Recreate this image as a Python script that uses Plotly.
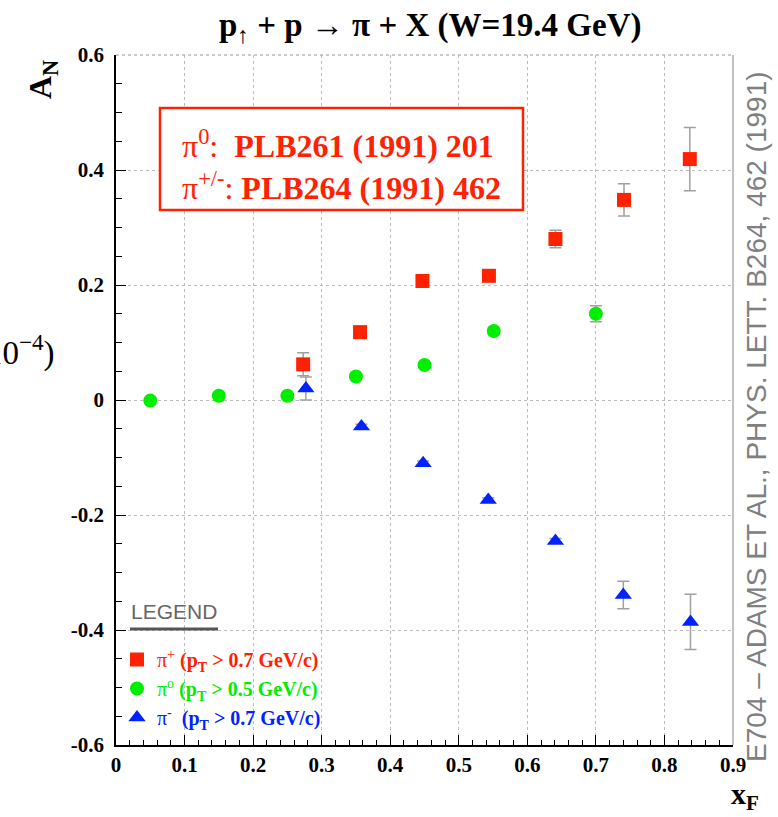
import plotly.graph_objects as go

# ---- data ----
pip_x = [0.273, 0.356, 0.447, 0.544, 0.641, 0.741, 0.837]
pip_y = [0.062, 0.118, 0.207, 0.216, 0.280, 0.348, 0.419]
pip_err = [0.020, 0.004, 0.004, 0.004, 0.015, 0.028, 0.055]

pi0_x = [0.05, 0.15, 0.25, 0.35, 0.45, 0.551, 0.70]
pi0_y = [-0.001, 0.0075, 0.0075, 0.041, 0.061, 0.120, 0.150]
pi0_err = [0.004, 0.004, 0.004, 0.004, 0.004, 0.006, 0.014]

pim_x = [0.277, 0.358, 0.448, 0.543, 0.641, 0.740, 0.838]
pim_y = [0.020, -0.046, -0.110, -0.174, -0.245, -0.339, -0.386]
pim_err = [0.020, 0.004, 0.004, 0.004, 0.004, 0.024, 0.048]

x_tick_vals = [0, 0.1, 0.2, 0.3, 0.4, 0.5, 0.6, 0.7, 0.8, 0.9]
x_tick_text = ["0", "0.1", "0.2", "0.3", "0.4", "0.5", "0.6", "0.7", "0.8", "0.9"]
y_tick_vals = [-0.6, -0.4, -0.2, 0, 0.2, 0.4, 0.6]
y_tick_text = ["-0.6", "-0.4", "-0.2", "0", "0.2", "0.4", "0.6"]

RED = "#ff2200"
GREEN = "#00ee00"
BLUE = "#0022ff"
SERIF = "Liberation Serif, Times New Roman, serif"
SANS = "Liberation Sans, Arial, sans-serif"

W, H = 778, 817
L, R, T, B = 116, 45, 55, 72
PW, PH = W - L - R, H - T - B


def px(x):
    return (x - L) / PW


def py(y):
    return (H - B - y) / PH


err_style = dict(type="data", color="#a0a0a0", thickness=1.5, width=6)

fig = go.Figure()
fig.add_trace(go.Scatter(
    x=pip_x, y=pip_y, mode="markers",
    error_y=dict(array=pip_err, **err_style),
    marker=dict(symbol="square", size=14, color=RED),
    name="<span style='color:%s'>π<sup>+</sup> <b>(p<sub>T</sub> > 0.7 GeV/c)</b></span>" % RED,
))
fig.add_trace(go.Scatter(
    x=pi0_x, y=pi0_y, mode="markers",
    error_y=dict(array=pi0_err, **err_style),
    marker=dict(symbol="circle", size=14, color=GREEN),
    name="<span style='color:%s'>π<sup>o</sup> <b>(p<sub>T</sub> > 0.5 GeV/c)</b></span>" % GREEN,
))
fig.add_trace(go.Scatter(
    x=pim_x, y=pim_y, mode="markers",
    error_y=dict(array=pim_err, **err_style),
    marker=dict(symbol="triangle-up", size=15, color=BLUE),
    name="<span style='color:%s'>π<sup>-</sup>  <b>(p<sub>T</sub> > 0.7 GeV/c)</b></span>" % BLUE,
))

axis_common = dict(
    showline=True, linecolor="black", linewidth=1.5,
    showgrid=True, gridcolor="#bbbbbb", griddash="dot", gridwidth=1,
    ticks="inside", ticklen=10, tickcolor="black", tickwidth=1,
    zeroline=False,
    tickfont=dict(family=SERIF, size=21, color="black", weight="bold"),
)

fig.update_xaxes(range=[0, 0.9], tickvals=x_tick_vals, ticktext=x_tick_text,
                 minor=dict(dtick=0.02, ticks="inside", ticklen=5, tickcolor="black", showgrid=False),
                 **axis_common)
fig.update_yaxes(range=[-0.6, 0.6], tickvals=y_tick_vals, ticktext=y_tick_text,
                 minor=dict(dtick=0.05, ticks="inside", ticklen=6, tickcolor="black", showgrid=False),
                 ticklabelstandoff=6,
                 **axis_common)

annotations = [
    dict(x=px(430), y=py(27), xref="paper", yref="paper", showarrow=False,
         text="<b>p<sub>↑</sub> + p → π + X (W=19.4 GeV)</b>",
         font=dict(family=SERIF, size=33, color="black"), xanchor="center", yanchor="middle"),
    dict(x=px(42), y=py(80), xref="paper", yref="paper", showarrow=False, textangle=-90,
         text="<b>A<sub>N</sub></b>",
         font=dict(family=SERIF, size=32, color="black"), xanchor="center", yanchor="middle"),
    dict(x=px(745), y=py(796), xref="paper", yref="paper", showarrow=False,
         text="<b>x<sub>F</sub></b>",
         font=dict(family=SERIF, size=30, color="black"), xanchor="center", yanchor="middle"),
    dict(x=px(57), y=py(350), xref="paper", yref="paper", showarrow=False,
         text="10<sup>−4</sup>)",
         font=dict(family=SERIF, size=33, color="black"), xanchor="right", yanchor="middle"),
    dict(x=px(341), y=py(165), xref="paper", yref="paper", showarrow=False,
         text="π<sup>0</sup>:  <b>PLB261 (1991) 201</b><br>π<sup>+/-</sup>: <b>PLB264 (1991) 462</b>",
         align="left",
         font=dict(family=SERIF, size=32, color=RED), xanchor="center", yanchor="middle"),
    dict(x=px(174), y=py(611), xref="paper", yref="paper", showarrow=False,
         text="LEGEND",
         font=dict(family=SANS, size=21, color="#666666"), xanchor="center", yanchor="middle"),
    dict(x=px(757), y=py(417), xref="paper", yref="paper", showarrow=False, textangle=-90,
         text="E704 – ADAMS ET AL., PHYS. LETT. B264, 462 (1991)",
         font=dict(family=SANS, size=28, color="#808080"), xanchor="center", yanchor="middle"),
]

shapes = [
    dict(type="rect", xref="paper", yref="paper", x0=px(160), x1=px(523), y0=py(108), y1=py(210),
         line=dict(color=RED, width=2.5), fillcolor="white", layer="above"),
    dict(type="line", xref="paper", yref="paper", x0=px(130), x1=px(218), y0=py(629), y1=py(629),
         line=dict(color="#555555", width=3)),
    dict(type="line", xref="paper", yref="paper", x0=0, x1=1, y0=1, y1=1,
         line=dict(color="#999999", width=1, dash="dot")),
    dict(type="line", xref="paper", yref="paper", x0=1, x1=1, y0=0, y1=1,
         line=dict(color="#999999", width=1.2)),
]

fig.update_layout(
    width=W, height=H,
    margin=dict(l=L, r=R, t=T, b=B),
    paper_bgcolor="white", plot_bgcolor="white",
    annotations=annotations, shapes=shapes,
    showlegend=True,
    legend=dict(x=px(117), y=py(640), xanchor="left", yanchor="top",
                bgcolor="rgba(0,0,0,0)", font=dict(family=SERIF, size=20),
                tracegroupgap=2, itemwidth=30),
)

fig.write_html("out.html")
